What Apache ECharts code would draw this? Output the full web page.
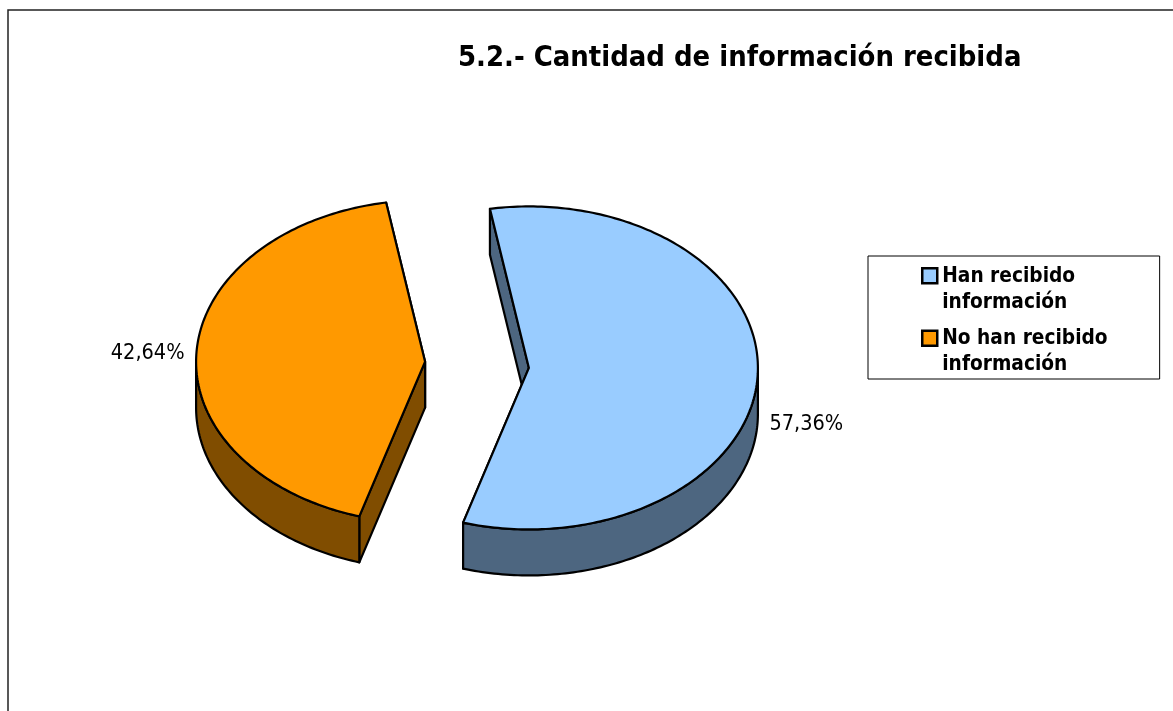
<!DOCTYPE html>
<html>
<head>
<meta charset="utf-8">
<style>
  html, body { margin: 0; padding: 0; background: #fff; }
  #main { width: 1173px; height: 711px; }
</style>
<script src="https://cdn.jsdelivr.net/npm/echarts@6/dist/echarts.min.js"></script>
</head>
<body>
<div id="main"></div>
<script>
// datos
var titleText = '5.2.- Cantidad de información recibida';
var sliceNames = ['Han recibido\ninformación', 'No han recibido\ninformación'];
var sliceValues = [57.36, 42.64];
var topColors = ['#99CCFF', '#FF9900'];
var sideColors = ['#4D6680', '#804D00'];

// tarta 3D: elipse centrada, extruida hacia abajo
var centerX = 477, centerY = 364.8;
var radiusX = 229, radiusY = 161.5;
var depth = 46, explode = 52;
var firstAngle = 99.8;
var fontName = '"DejaVu Sans Condensed", "DejaVu Sans", sans-serif';

var total = sliceValues.reduce(function (a, b) { return a + b; }, 0);

function arcPoints(cx, cy, from, to) {
  var pts = [];
  var steps = Math.max(1, Math.ceil(Math.abs(from - to)));
  for (var i = 0; i <= steps; i++) {
    var t = (from + (to - from) * i / steps) * Math.PI / 180;
    pts.push([cx + radiusX * Math.cos(t), cy - radiusY * Math.sin(t)]);
  }
  return pts;
}

function moved(pts) {
  return pts.map(function (p) { return [p[0], p[1] + depth]; }).reverse();
}

function makeRender(index) {
  return function (params, api) {
    var before = 0;
    for (var i = 0; i < index; i++) before += sliceValues[i];
    var from = firstAngle - 360 * before / total;
    var to = from - 360 * api.value(0) / total;
    var mid = (from + to) / 2 * Math.PI / 180;
    var cx = centerX + explode * Math.cos(mid);
    var cy = centerY - explode * Math.sin(mid);
    var line = { stroke: '#000', lineWidth: 2.2, lineJoin: 'round' };
    function poly(points, fill) {
      return { type: 'polygon', shape: { points: points }, style: Object.assign({ fill: fill }, line) };
    }
    var arc = arcPoints(cx, cy, from, to);
    var apex = [cx, cy];
    // caras de corte, primero la de atras
    var ends = [arc[0], arc[arc.length - 1]].sort(function (a, b) { return a[1] - b[1]; });
    var kids = ends.map(function (p) {
      return poly([p, apex].concat(moved([p, apex])), sideColors[index]);
    });
    // pared exterior, solo la mitad de abajo
    var wall = arcPoints(cx, cy, Math.min(from, 0), Math.max(to, -180));
    kids.push(poly(wall.concat(moved(wall)), sideColors[index]));
    // cara superior
    kids.push(poly([apex].concat(arc), topColors[index]));
    // etiqueta
    var ex = cx + radiusX * Math.cos(mid);
    var ey = cy - radiusY * Math.sin(mid) + (Math.sin(mid) < 0 ? depth : 0);
    var right = Math.cos(mid) > 0;
    kids.push({
      type: 'text',
      style: {
        text: api.value(0).toFixed(2).replace('.', ',') + '%',
        x: ex + (right ? 12 : -12),
        y: ey + 1,
        align: right ? 'left' : 'right',
        verticalAlign: 'middle',
        fill: '#000',
        font: '21.5px ' + fontName
      }
    });
    return { type: 'group', children: kids };
  };
}

var chart = echarts.init(document.getElementById('main'));

chart.setOption({
  animation: false,
  title: {
    text: titleText,
    left: 458,
    top: 44,
    padding: 0,
    textStyle: { color: '#000', fontSize: 28.9, fontWeight: 'bold', fontFamily: fontName }
  },
  legend: {
    left: 868,
    top: 256,
    orient: 'vertical',
    align: 'left',
    backgroundColor: '#fff',
    borderColor: '#000',
    borderWidth: 1,
    borderRadius: 0,
    padding: [6, 52, 0, 53],
    itemWidth: 15,
    itemHeight: 52,
    itemGap: 8,
    // cuadro arriba, alineado con la primera linea del texto
    icon: 'path://M0 5H15V20H0ZM15 0L15 0M15 52L15 52',
    itemStyle: { borderColor: '#000', borderWidth: 2.5 },
    textStyle: { color: '#000', fontSize: 20.7, fontWeight: 'bold', fontFamily: fontName, lineHeight: 26 },
    data: sliceNames
  },
  graphic: [{
    type: 'polyline',
    shape: { points: [[8, 720], [8, 10], [1180, 10]] },
    style: { stroke: '#222', lineWidth: 1.5, fill: null }
  }],
  series: sliceNames.map(function (name, i) {
    return {
      type: 'custom',
      name: name,
      coordinateSystem: 'none',
      silent: true,
      itemStyle: { color: topColors[i] },
      data: [[sliceValues[i]]],
      renderItem: makeRender(i)
    };
  })
});
</script>
</body>
</html>
